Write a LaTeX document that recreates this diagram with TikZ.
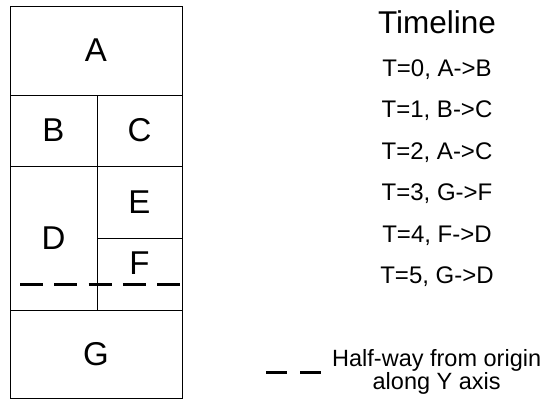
\documentclass[tikz,border=0pt]{standalone}
\usepackage{fontspec}
\setmainfont{Liberation Sans}
\usetikzlibrary{positioning}

\tikzset{
    cell/.style={draw, line width=1pt, inner sep=0pt, minimum width=#1,
        font=\fontsize{33}{36}\selectfont},
    letter/.style={inner sep=0pt, font=\fontsize{33}{36}\selectfont},
    halfway/.style={line width=3pt},
    entry/.style={inner sep=0pt, anchor=base, font=\fontsize{24}{26}\selectfont}
}

\begin{document}
\begin{tikzpicture}[x=1pt, y=-1pt]
    \useasboundingbox (0,0) rectangle (545,402);

    % partition of the domain
    \node[cell=172, minimum height=89] (A) at (96,50.5) {A};
    \node[cell=87, minimum height=71] (B) at (53.5,130.5) {B};
    \node[cell=85, minimum height=71] (C) at (139.5,130.5) {C};
    \node[cell=87, minimum height=144] (D) at (53.5,238) {D};
    \node[cell=85, minimum height=72] (E) at (139.5,202) {E};
    \node[cell=85, minimum height=72, label={[letter, yshift=11pt]center:F}] (F) at (139.5,274) {};
    \node[cell=172, minimum height=88] (G) at (96,354) {G};

    % half-way line
    \coordinate (halfL) at (20,284);
    \coordinate (halfR) at (180,284);
    \draw[halfway, dash pattern=on 23pt off 11.25pt] (halfL) -- (halfR);

    % timeline
    \node[entry, font=\fontsize{31.5}{34}\selectfont] (title) at (437,33.3) {Timeline};
    \foreach \t/\move in {0/A->B, 1/B->C, 2/A->C, 3/G->F, 4/F->D, 5/G->D}
        \node[entry] (t\t) at (437,76+41.5*\t) {T=\t, \move};

    % legend
    \coordinate (legL) at (266,372);
    \coordinate (legR) at (323,372);
    \draw[halfway, dash pattern=on 21pt off 13pt] (legL) -- (legR);
    \node[inner sep=0pt, anchor=west, right=9pt of legR, align=center,
        font=\fontsize{23.5}{23}\selectfont] (legtext) {Half-way from origin\\along Y axis};
\end{tikzpicture}
\end{document}
